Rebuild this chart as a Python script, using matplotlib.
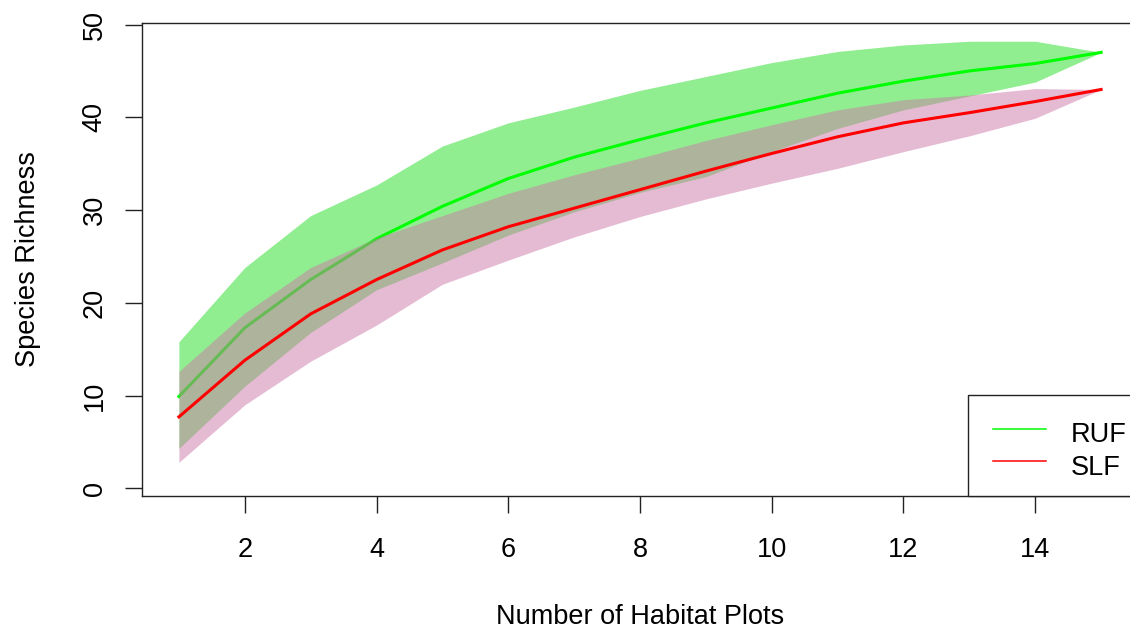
import numpy as np
import matplotlib
matplotlib.use("Agg")
import matplotlib.pyplot as plt
from matplotlib.patches import Rectangle

# Species accumulation curves, mean with confidence band
plots = np.arange(1, 16)

ruf_mean = [9.9, 17.3, 22.5, 26.9, 30.4, 33.4, 35.7, 37.6, 39.4, 41.0, 42.6, 43.9, 45.0, 45.8, 47.0]
ruf_upper = [15.8, 23.8, 29.4, 32.7, 36.9, 39.4, 41.1, 42.9, 44.4, 45.9, 47.1, 47.8, 48.2, 48.2, 47.0]
ruf_lower = [4.3, 11.0, 16.8, 21.4, 24.3, 27.3, 29.8, 31.9, 33.6, 36.3, 38.8, 40.8, 42.3, 43.8, 47.0]

slf_mean = [7.7, 13.8, 18.8, 22.5, 25.7, 28.2, 30.2, 32.2, 34.2, 36.1, 37.9, 39.4, 40.5, 41.7, 43.0]
slf_upper = [12.6, 18.9, 23.8, 27.0, 29.4, 31.8, 33.8, 35.6, 37.5, 39.2, 40.8, 41.9, 42.4, 43.1, 43.0]
slf_lower = [2.8, 9.0, 13.7, 17.6, 22.0, 24.6, 27.1, 29.3, 31.2, 32.9, 34.5, 36.3, 38.0, 39.9, 43.0]

labels = ["RUF", "SLF"]
line_colors = ["#00ff00", "#ff0000"]

plt.rcParams['font.family'] = ['Liberation Sans', 'DejaVu Sans']
plt.rcParams['font.size'] = 19.5

fig = plt.figure(figsize=(11.3, 6.29), dpi=100)
ax = fig.add_axes([142 / 1130, 133 / 629, 996 / 1130, 473.3 / 629])

# RUF band and curve, then SLF band on top (half transparent)
ax.fill_between(plots, ruf_lower, ruf_upper, color="#90ee90", lw=0, zorder=1)
ax.plot(plots, ruf_mean, color=line_colors[0], lw=2.2, zorder=2)
ax.fill_between(plots, slf_lower, slf_upper, color="#cd79a9", alpha=0.5, lw=0, zorder=3)
ax.plot(plots, slf_mean, color=line_colors[1], lw=2.2, zorder=4)

ax.set_xlim(0.44, 15.56)
ax.set_ylim(-0.83, 50.2)
ax.set_xticks(np.arange(2, 15, 2))
ax.set_yticks(np.arange(0, 51, 10))

for s in ax.spines.values():
    s.set_linewidth(1.0)
    s.set_color("#222222")

ax.tick_params(axis='both', direction='out', length=12.2, width=1.0, color="#222222")
ax.tick_params(axis='x', pad=17.5)
ax.tick_params(axis='y', pad=12.5, labelrotation=90)
for t in ax.get_yticklabels():
    t.set_verticalalignment('center')

ax.set_xlabel("Number of Habitat Plots", labelpad=29)
ax.set_ylabel("Species Richness", labelpad=29)

# legend box in the bottom-right corner
ax.add_patch(Rectangle((0.829, 0.0), 0.2, 0.214, transform=ax.transAxes,
                       facecolor="white", edgecolor="#222222", lw=1.0,
                       zorder=5, clip_on=False))
row_y = [0.142, 0.0733]
text_base = [0.1135, 0.0444]
for lab, col, yl, yt in zip(labels, line_colors, row_y, text_base):
    ax.plot([0.854, 0.908], [yl, yl], transform=ax.transAxes, color=col,
            lw=1.1, zorder=6, clip_on=False)
    ax.text(0.932, yt, lab, transform=ax.transAxes, va='baseline', ha='left',
            zorder=6)

fig.savefig("out.png", dpi=100)
